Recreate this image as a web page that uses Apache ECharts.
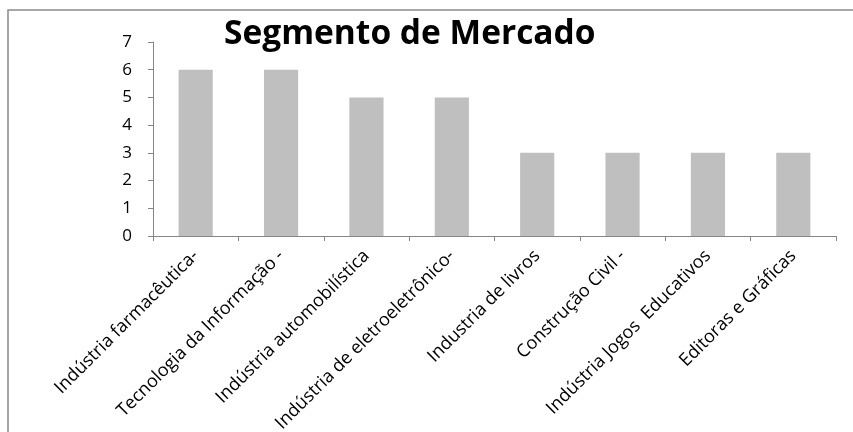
<!DOCTYPE html>
<html><head><meta charset="utf-8">
<script src="https://cdn.jsdelivr.net/npm/echarts@6/dist/echarts.min.js"></script>
<style>html,body{margin:0;padding:0;background:#fff}#c{width:853px;height:432px}</style>
</head><body><div id="c"></div>
<script>
const categories = ["Indústria farmacêutica-", "Tecnologia da Informação -", "Indústria automobilística", "Indústria de eletroeletrônico-", "Industria de livros", "Construção Civil -", "Indústria Jogos  Educativos", "Editoras e Gráficas"];
const values = [6, 6, 5, 5, 3, 3, 3, 3];
const yTicks = [0, 1, 2, 3, 4, 5, 6, 7];
const titleText = "Segmento de Mercado";

const chart = echarts.init(document.getElementById('c'), null, {renderer: 'canvas'});
chart.setOption({
  animation: false,
  backgroundColor: '#fff',
  textStyle: {fontFamily: 'Open Sans'},
  title: {
    text: titleText, left: 219, top: 12,
    textStyle: {fontFamily: 'Open Sans', fontWeight: 'bold', fontSize: 33.5, color: '#000'}
  },
  graphic: [{
    type: 'rect', shape: {x: 8, y: 10, width: 900, height: 500},
    style: {fill: 'none', stroke: '#8a8a8a', lineWidth: 1.5}, silent: true, z: -1
  }],
  grid: {left: 153, right: 17, top: 42, bottom: 196, containLabel: false, outerBoundsMode: 'none'},
  xAxis: {
    type: 'category', data: categories,
    axisLine: {lineStyle: {color: '#868686', width: 1}},
    axisTick: {show: true, length: 5, lineStyle: {color: '#868686'}},
    axisLabel: {rotate: 45, interval: 0, fontSize: 18, color: '#000', margin: 17, fontFamily: 'Open Sans', hideOverlap: false}
  },
  yAxis: {
    type: 'value', min: yTicks[0], max: yTicks[yTicks.length - 1], interval: 1,
    axisLine: {show: true, lineStyle: {color: '#868686', width: 1}},
    axisTick: {show: true, length: 5, lineStyle: {color: '#868686'}},
    splitLine: {show: false},
    axisLabel: {fontSize: 17, color: '#000', margin: 21, fontFamily: 'Open Sans'}
  },
  series: [{
    type: 'bar', data: values, barCategoryGap: '60%',
    itemStyle: {color: '#BFBFBF'}
  }]
});
</script></body></html>
